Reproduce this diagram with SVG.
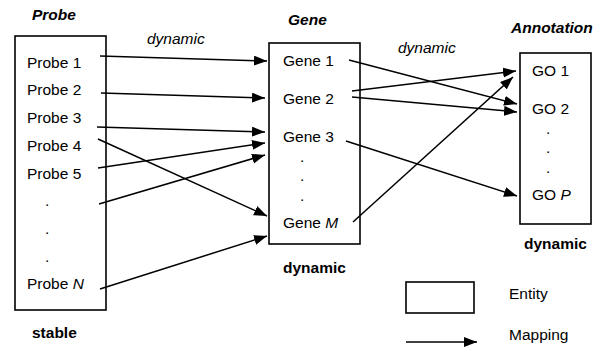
<svg xmlns="http://www.w3.org/2000/svg" width="600" height="347" viewBox="0 0 600 347">
<style>
text{font-family:"Liberation Sans",Arial,sans-serif;font-size:15.5px;fill:#000}
.t{font-weight:bold;font-style:italic}
.b{font-weight:bold}
.i{font-style:italic}
.box{fill:#fff;stroke:#000;stroke-width:1.6}
.c line{stroke:#000;stroke-width:1.5;marker-end:url(#ah)}
</style>
<defs>
<marker id="ah" markerUnits="userSpaceOnUse" markerWidth="14" markerHeight="11" refX="13" refY="5" orient="auto">
<path d="M0,0 L13,5 L0,10 Z" fill="#000"/>
</marker>
</defs>
<rect width="600" height="347" fill="#fff"/>
<g id="probe">
<text class="t" x="32" y="20">Probe</text>
<rect class="box" x="15" y="36" width="91" height="274"/>
<text x="27" y="68">Probe 1</text>
<text x="27" y="95">Probe 2</text>
<text x="27" y="123">Probe 3</text>
<text x="27" y="151">Probe 4</text>
<text x="27" y="179">Probe 5</text>
<text x="45" y="206">.</text>
<text x="45" y="234">.</text>
<text x="45" y="262">.</text>
<text x="27" y="289">Probe <tspan class="i">N</tspan></text>
<text class="b" x="32" y="338">stable</text>
</g>
<g id="gene">
<text class="t" x="288" y="25">Gene</text>
<rect class="box" x="269" y="43" width="91" height="201"/>
<text x="283" y="66">Gene 1</text>
<text x="283" y="104">Gene 2</text>
<text x="283" y="142">Gene 3</text>
<text x="300" y="162">.</text>
<text x="300" y="181">.</text>
<text x="300" y="201">.</text>
<text x="283" y="228">Gene <tspan class="i">M</tspan></text>
<text class="b" x="283" y="273">dynamic</text>
</g>
<g id="annotation">
<text class="t" x="511" y="33">Annotation</text>
<rect class="box" x="520" y="53" width="71" height="171"/>
<text x="532" y="76">GO 1</text>
<text x="532" y="114">GO 2</text>
<text x="546" y="134">.</text>
<text x="546" y="153">.</text>
<text x="546" y="173">.</text>
<text x="532" y="200">GO <tspan class="i">P</tspan></text>
<text class="b" x="524" y="249">dynamic</text>
</g>
<g id="labels">
<text class="i" x="147" y="44">dynamic</text>
<text class="i" x="398" y="53">dynamic</text>
</g>
<g id="legend">
<rect class="box" x="406" y="282" width="68" height="31"/>
<text x="509" y="299">Entity</text>
<text x="509" y="340">Mapping</text>
</g>
<g class="c" id="connectors">
<line x1="100" y1="56" x2="267" y2="61"/>
<line x1="101" y1="93" x2="265" y2="98"/>
<line x1="97" y1="127" x2="265" y2="132"/>
<line x1="98" y1="168" x2="265" y2="143"/>
<line x1="98" y1="139" x2="267" y2="216"/>
<line x1="99" y1="204" x2="265" y2="155"/>
<line x1="100" y1="289" x2="267" y2="236"/>
<line x1="349" y1="60" x2="517" y2="104"/>
<line x1="352" y1="91" x2="516" y2="71"/>
<line x1="352" y1="97" x2="517" y2="112"/>
<line x1="346" y1="141" x2="517" y2="196"/>
<line x1="353" y1="222" x2="513" y2="77"/>
<line x1="406" y1="342" x2="477" y2="342"/>
</g>
</svg>
